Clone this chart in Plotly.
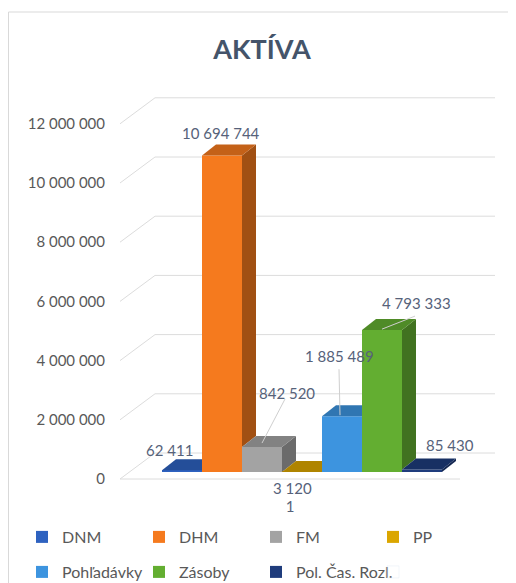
import plotly.graph_objects as go

# ---------------- data ----------------
categories = ["DNM", "DHM", "FM", "PP", "Pohľadávky", "Zásoby", "Pol. Čas. Rozl."]
values = [62411, 10694744, 842520, 3120, 1885489, 4793333, 85430]
value_labels = ["62 411", "10 694 744", "842 520", "3 120", "1 885 489", "4 793 333", "85 430"]
category_labels = ["1"]
y_tickvals = [0, 2000000, 4000000, 6000000, 8000000, 10000000, 12000000]
y_ticktext = ["0", "2 000 000", "4 000 000", "6 000 000", "8 000 000", "10 000 000", "12 000 000"]

# ---------------- style ----------------
colors = ["#2E62C0", "#F57A1E", "#A3A3A3", "#DBA600", "#3D94DF", "#63AE31", "#1F3C7C"]
PAGE_W, PAGE_H = 516, 583
OFF = 8                       # default body margin of the html page
W, H = PAGE_W - OFF, PAGE_H - OFF
PLOT_L, PLOT_R, PLOT_T, PLOT_B = 120, 495, 90, 488   # page pixels
ML, MR, MT, MB = PLOT_L - OFF, PAGE_W - PLOT_R, PLOT_T - OFF, PAGE_H - PLOT_B
PXM = 29.6                  # pixels per million
U = 1e6 / PXM               # value units per pixel
FLOOR_PX = 479              # page y of value 0 at the floor front edge
BAR_W = 40
FIRST_X = 42
BASE = 7 * U                # bars stand slightly behind the floor front edge
DXB, DYB = 14, 11 * U       # bar depth
DXW, DYW = 35, 26 * U       # wall depth
FLOOR_LEN = 340
X_MAX = PLOT_R - PLOT_L
FONT = "Lato"
GRID = "#DCDCDC"
LABEL_COL = "#56627A"
TICK_COL = "#595959"

# label offsets (px, screen: +x right, +y up) relative to front-top centre of each bar
label_off = [(-13, 20), (-1, 22), (25, 54), (-10, -16), (-3, 60), (34, 27), (28, 24)]
# leader lines (px, screen up positive, relative to front-top centre): from dx, dy -> to dx, dy
leader = [None, None, (23, 48, 0, 4), None, (-3, 47, -2, 1), (33, 14, 0, 1), None]


def shade(hexc, f):
    h = hexc.lstrip("#")
    r, g, b = (int(h[i:i + 2], 16) for i in (0, 2, 4))
    return "#%02X%02X%02X" % (int(r * f), int(g * f), int(b * f))


fig = go.Figure()

n = len(values)
x0s = [FIRST_X + BAR_W * i for i in range(n)]
tops = [BASE + v for v in values]

# front faces (real bars)
for i in range(n):
    fig.add_trace(go.Bar(
        x=[x0s[i] + BAR_W / 2], y=[values[i]], base=[BASE], width=[BAR_W],
        name=categories[i], marker=dict(color=colors[i], line=dict(width=0)),
        legend="legend" if i < 4 else "legend2", hoverinfo="skip",
    ))
# empty, invisible legend slot so that the last legend text is not clipped
fig.add_trace(go.Bar(x=[None], y=[None], name=" ", legend="legend2",
                     marker=dict(color="rgba(0,0,0,0)"), hoverinfo="skip"))

# side and top faces
for i in range(n):
    x0, x1, t = x0s[i], x0s[i] + BAR_W, tops[i]
    nxt = tops[i + 1] if i + 1 < n else BASE
    low = max(BASE, nxt)
    if t > low:
        fig.add_trace(go.Scatter(
            x=[x1, x1 + DXB, x1 + DXB, x1, x1], y=[low, low + DYB, t + DYB, t, low],
            fill="toself", fillcolor=shade(colors[i], 0.66), mode="lines",
            line=dict(width=0), showlegend=False, hoverinfo="skip"))
    if nxt > t:
        tx = [x0, x1, x1, x0 + DXB, x0]
    else:
        tx = [x0, x1, x1 + DXB, x0 + DXB, x0]
    ty = [t, t, t + DYB, t + DYB, t]
    fig.add_trace(go.Scatter(
        x=tx, y=ty, fill="toself", fillcolor=shade(colors[i], 0.8), mode="lines",
        line=dict(width=0), showlegend=False, hoverinfo="skip"))

# gridlines in perspective (below traces)
shapes = []
for v in y_tickvals:
    shapes.append(dict(type="path", xref="x", yref="y", layer="below",
                       path=f"M 0,{v} L {DXW},{v + DYW} L {X_MAX},{v + DYW}",
                       line=dict(color=GRID, width=1)))
shapes.append(dict(type="line", xref="x", yref="y", layer="below",
                   x0=0, y0=0, x1=FLOOR_LEN, y1=0, line=dict(color=GRID, width=1)))
# chart border
pw, ph = PLOT_R - PLOT_L, PLOT_B - PLOT_T
shapes.append(dict(type="rect", xref="paper", yref="paper", layer="below",
                   x0=(OFF + 0.5 - PLOT_L) / pw, x1=(PAGE_W + 10 - PLOT_L) / pw,
                   y0=-(PAGE_H - PLOT_B + 10) / ph, y1=(PLOT_B - 12) / ph,
                   line=dict(color="#D9D9D9", width=1)))

# data labels and leader lines
annotations = []
for i in range(n):
    cx = x0s[i] + BAR_W / 2
    dx, dy = label_off[i]
    annotations.append(dict(x=cx, y=tops[i], xref="x", yref="y",
                            xshift=dx, yshift=dy, xanchor="center", yanchor="middle",
                            text=value_labels[i], showarrow=False,
                            font=dict(family=FONT, size=15, color=LABEL_COL)))
    if leader[i]:
        fx, fy, tx_, ty_ = leader[i]
        shapes.append(dict(type="line", xref="x", yref="y", layer="above",
                           x0=cx + fx, y0=tops[i] + fy * U, x1=cx + tx_, y1=tops[i] + ty_ * U,
                           line=dict(color="#CFCFCF", width=1)))

y_lo = -(PLOT_B - FLOOR_PX) * U
y_hi = (FLOOR_PX - PLOT_T) * U

leg_common = dict(orientation="h", xref="paper", yref="paper",
                  x=(22 - PLOT_L) / pw, xanchor="left", yanchor="middle",
                  entrywidth=72, entrywidthmode="pixels",
                  font=dict(family=FONT, size=16, color=TICK_COL),
                  bgcolor="rgba(0,0,0,0)")

fig.update_layout(
    width=W, height=H,
    margin=dict(l=ML, r=MR, t=MT, b=MB, autoexpand=False),
    paper_bgcolor="white", plot_bgcolor="white",
    barmode="overlay",
    title=dict(text="<b>AKTÍVA</b>", x=(262 - OFF) / W, xref="container", xanchor="center",
               y=1 - (50 - OFF) / H, yref="container", yanchor="middle",
               font=dict(family=FONT, size=27, color="#44546A")),
    xaxis=dict(range=[0, X_MAX], showgrid=False, zeroline=False, showline=False,
               tickvals=[FLOOR_LEN / 2], ticktext=category_labels, ticks="",
               ticklabelstandoff=8, automargin=False,
               tickfont=dict(family=FONT, size=15, color=LABEL_COL), fixedrange=True),
    yaxis=dict(range=[y_lo, y_hi], showgrid=False, zeroline=False,
               showline=False, tickvals=y_tickvals, ticktext=y_ticktext, ticks="",
               ticklabelstandoff=14, automargin=False,
               tickfont=dict(family=FONT, size=15, color=TICK_COL), fixedrange=True),
    legend=dict(y=(PLOT_B - 537) / ph, **leg_common),
    legend2=dict(y=(PLOT_B - 572) / ph, **leg_common),
    shapes=shapes,
    annotations=annotations,
    showlegend=True,
)

fig.write_html("out.html")
